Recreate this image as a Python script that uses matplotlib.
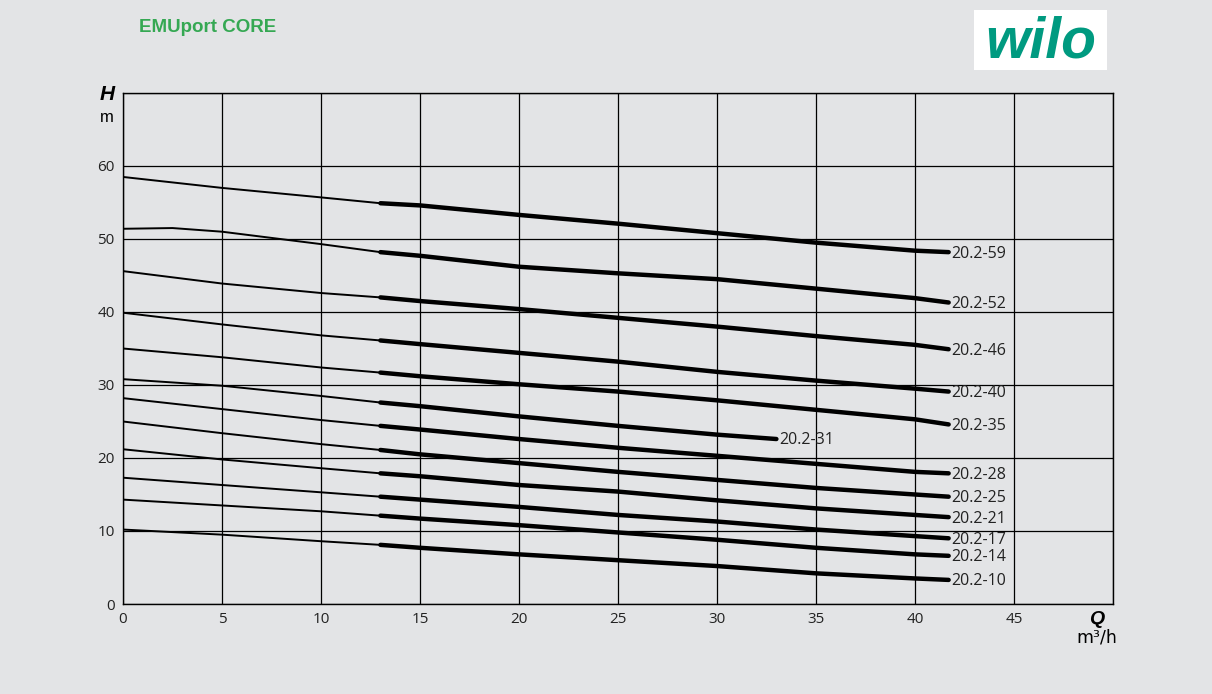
import matplotlib
matplotlib.use("Agg")
import matplotlib.pyplot as plt

# Q in m3/h, H in m
q_pts = [0, 5, 10, 13, 15, 20, 25, 30, 35, 40, 41.7]
q_52 = [0, 2.5, 5, 10, 13, 15, 20, 25, 30, 35, 40, 41.7]
q_31 = [0, 5, 10, 13, 15, 20, 25, 30, 33]

h_59 = [58.5, 57.0, 55.7, 54.9, 54.6, 53.3, 52.1, 50.8, 49.5, 48.4, 48.2]
h_52 = [51.4, 51.5, 51.0, 49.3, 48.2, 47.7, 46.2, 45.3, 44.5, 43.2, 41.9, 41.3]
h_46 = [45.6, 43.9, 42.6, 42.0, 41.5, 40.4, 39.2, 38.0, 36.7, 35.5, 34.9]
h_40 = [39.9, 38.3, 36.8, 36.1, 35.6, 34.4, 33.2, 31.8, 30.6, 29.5, 29.1]
h_35 = [35.0, 33.8, 32.4, 31.7, 31.2, 30.1, 29.1, 27.9, 26.6, 25.3, 24.6]
h_31 = [30.8, 29.9, 28.5, 27.6, 27.1, 25.7, 24.4, 23.2, 22.6]
h_28 = [28.2, 26.7, 25.2, 24.4, 23.9, 22.6, 21.4, 20.3, 19.2, 18.1, 17.9]
h_25 = [25.0, 23.4, 21.9, 21.1, 20.5, 19.3, 18.1, 17.0, 15.9, 15.0, 14.7]
h_21 = [21.2, 19.8, 18.6, 17.9, 17.5, 16.3, 15.4, 14.2, 13.1, 12.2, 11.9]
h_17 = [17.3, 16.3, 15.3, 14.7, 14.3, 13.3, 12.2, 11.3, 10.2, 9.3, 9.0]
h_14 = [14.3, 13.5, 12.7, 12.1, 11.7, 10.8, 9.8, 8.8, 7.7, 6.8, 6.6]
h_10 = [10.2, 9.5, 8.6, 8.1, 7.7, 6.8, 6.0, 5.2, 4.2, 3.5, 3.3]

curves = [
    ("20.2-59", q_pts, h_59), ("20.2-52", q_52, h_52), ("20.2-46", q_pts, h_46),
    ("20.2-40", q_pts, h_40), ("20.2-35", q_pts, h_35), ("20.2-31", q_31, h_31),
    ("20.2-28", q_pts, h_28), ("20.2-25", q_pts, h_25), ("20.2-21", q_pts, h_21),
    ("20.2-17", q_pts, h_17), ("20.2-14", q_pts, h_14), ("20.2-10", q_pts, h_10),
]
q_split = 13  # thin line below, thick line above

x_ticks = [0, 5, 10, 15, 20, 25, 30, 35, 40, 45]
y_ticks = [0, 10, 20, 30, 40, 50, 60]

bg = "#e3e4e6"
num_font = ["Open Sans", "DejaVu Sans"]

fig = plt.figure(figsize=(12.12, 6.94), dpi=100, facecolor=bg)
ax = fig.add_axes([123 / 1212, 1 - 604 / 694, 990 / 1212, 511 / 694])
ax.set_facecolor(bg)
ax.set_xlim(0, 50)
ax.set_ylim(0, 70)

ax.set_xticks(range(0, 51, 5))
ax.set_yticks(range(0, 71, 10))
ax.grid(True, color="black", lw=0.9)
ax.set_axisbelow(True)
ax.tick_params(length=0, pad=6)
ax.set_xticklabels([str(v) if v in x_ticks else "" for v in range(0, 51, 5)],
                   family=num_font, fontsize=11, color="#222222")
ax.set_yticklabels([str(v) if v in y_ticks else "" for v in range(0, 71, 10)],
                   family=num_font, fontsize=11, color="#222222")
for s in ax.spines.values():
    s.set_color("black")
    s.set_linewidth(1.0)

for name, q, h in curves:
    qt = [a for a in q if a <= q_split]
    ht = [b for a, b in zip(q, h) if a <= q_split]
    qk = [a for a in q if a >= q_split]
    hk = [b for a, b in zip(q, h) if a >= q_split]
    ax.plot(qt, ht, color="black", lw=1.4, solid_joinstyle="round",
            solid_capstyle="round", zorder=3)
    ax.plot(qk, hk, color="black", lw=3.2, solid_joinstyle="round",
            solid_capstyle="round", zorder=3)
    ax.annotate(name, (q[-1], h[-1]), xytext=(2, -1), textcoords="offset points",
                va="center", ha="left", family=num_font, fontsize=11.5,
                color="#222222", zorder=4)

# axis captions
fig.text(107 / 1212, 1 - 95 / 694, "H", family="Liberation Sans", fontsize=15,
         weight="bold", style="italic", ha="center", va="center")
fig.text(107 / 1212, 1 - 117 / 694, "m", family="Liberation Sans", fontsize=12,
         ha="center", va="center")
fig.text(1097 / 1212, 1 - 620 / 694, "Q", family="Liberation Sans", fontsize=14,
         weight="bold", style="italic", ha="center", va="center")
fig.text(1097 / 1212, 1 - 638 / 694, "m\u00b3/h", family="Liberation Sans Narrow",
         fontsize=12.5, ha="center", va="center")

# title and logo
fig.text(139 / 1212, 1 - 27 / 694, "EMUport CORE", family="Liberation Sans",
         fontsize=13.5, weight="bold", color="#35a853", ha="left", va="center")
fig.patches.append(plt.Rectangle((974 / 1212, 1 - 70 / 694), 133 / 1212, 60 / 694,
                                 transform=fig.transFigure, facecolor="white",
                                 edgecolor="none"))
fig.text(1041 / 1212, 1 - 42 / 694, "wilo", family="Liberation Sans", fontsize=41,
         weight="bold", style="italic", color="#009a80", ha="center", va="center")

fig.savefig("out.png", dpi=100, facecolor=bg)
